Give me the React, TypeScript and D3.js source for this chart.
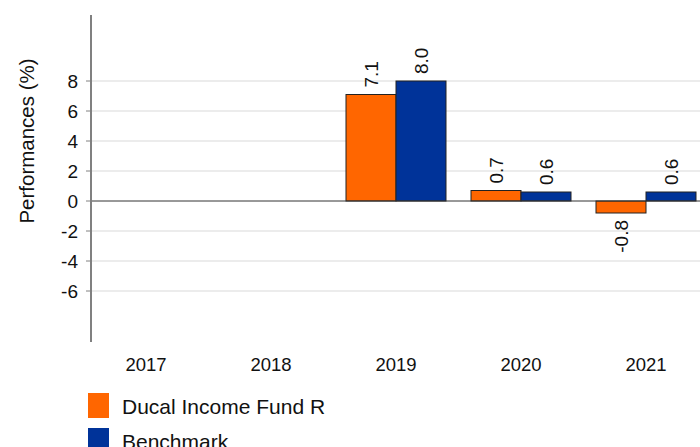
import React from "react";
import * as d3 from "d3";

const years = ["2017", "2018", "2019", "2020", "2021"];
const fundValues: (number | null)[] = [null, null, 7.1, 0.7, -0.8];
const benchValues: (number | null)[] = [null, null, 8.0, 0.6, 0.6];
const yTicks = [-6, -4, -2, 0, 2, 4, 6, 8];
const seriesNames = ["Ducal Income Fund R", "Benchmark"];
const seriesColors = ["#ff6600", "#003399"];

export default function App() {
  const W = 700, H = 447;
  const font = "Liberation Sans, Arial, sans-serif";
  const y = d3.scaleLinear().domain([-9.4, 12.4]).range([342, 15]);
  const x = d3.scaleBand().domain(years).range([83.5, 708.5]).paddingInner(0).paddingOuter(0);
  const sub = d3.scaleBand().domain(["0", "1"]).range([0, x.bandwidth() * 0.8]);
  const bandX = (yr: string) => (x(yr) as number) + x.bandwidth() * 0.1;
  const series = [fundValues, benchValues];
  return (
    <svg width={W} height={H} style={{ position: "absolute", left: 0, top: 0 }} fontFamily={font}>
      <rect width={W} height={H} fill="#fff" />
      {yTicks.filter(t => t !== 0).map(t => (
        <line key={t} x1={91} x2={W} y1={y(t)} y2={y(t)} stroke="#d9d9d9" strokeWidth={1} />
      ))}
      {series.map((vals, si) =>
        vals.map((v, i) => {
          if (v === null) return null;
          const bx = bandX(years[i]) + (sub(String(si)) as number);
          const bw = sub.bandwidth();
          const top = Math.min(y(v), y(0));
          const h = Math.abs(y(v) - y(0));
          const cx = bx + bw / 2;
          const ly = v >= 0 ? y(v) - 7 : y(v) + 7;
          return (
            <g key={`${si}-${i}`}>
              <rect x={bx} y={top} width={bw} height={h} fill={seriesColors[si]} stroke="#222" strokeWidth={1} />
              <text
                transform={`translate(${cx + 7},${ly}) rotate(-90)`}
                fontSize={19}
                fill="#111"
                textAnchor={v >= 0 ? "start" : "end"}
              >
                {v.toFixed(1)}
              </text>
            </g>
          );
        })
      )}
      <line x1={91} x2={W} y1={y(0)} y2={y(0)} stroke="#333" strokeWidth={1} />
      <line x1={91} x2={91} y1={15} y2={342} stroke="#808080" strokeWidth={2} />
      {yTicks.map(t => (
        <g key={t}>
          <line x1={86} x2={91} y1={y(t)} y2={y(t)} stroke="#808080" strokeWidth={1} />
          <text x={78} y={y(t) + 7} textAnchor="end" fontSize={19} fill="#111">{t}</text>
        </g>
      ))}
      {years.map(yr => (
        <text key={yr} x={bandX(yr) + 50} y={371} textAnchor="middle" fontSize={18.5} fill="#111">{yr}</text>
      ))}
      <text transform={`translate(34,141) rotate(-90)`} textAnchor="middle" fontSize={20.5} fill="#111">Performances (%)</text>
      {seriesNames.map((n, i) => (
        <g key={n}>
          <rect x={88} y={393 + i * 35} width={21} height={25} fill={seriesColors[i]} />
          <text x={122} y={414 + i * 35} fontSize={21} fill="#111">{n}</text>
        </g>
      ))}
    </svg>
  );
}
